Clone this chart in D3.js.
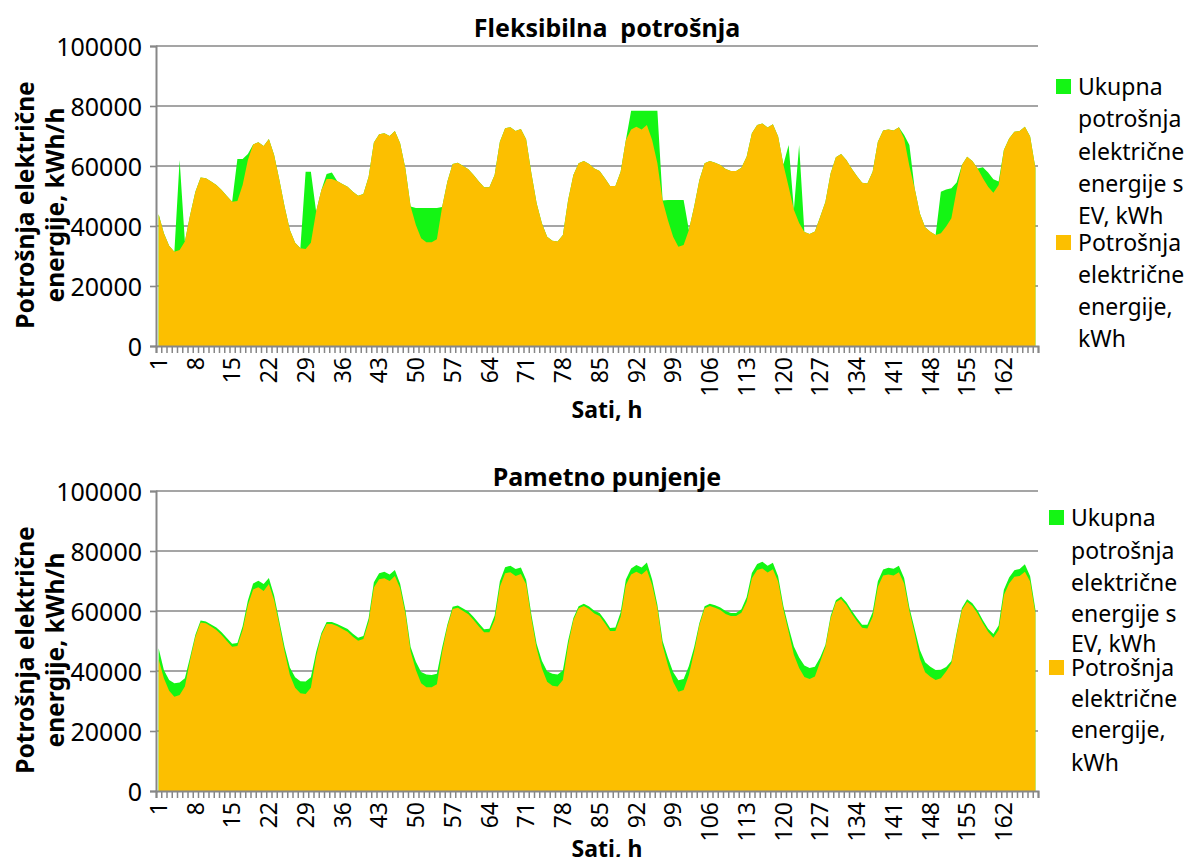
<!DOCTYPE html>
<html>
<head>
<meta charset="utf-8">
<script src="https://cdn.jsdelivr.net/npm/d3@7"></script>
<style>
  body { margin: 0; background: #fff; }
  svg text { font-family: "Noto Sans", "DejaVu Sans", sans-serif; fill: #000; }
</style>
</head>
<body>
<svg id="chart" width="1189" height="857"></svg>
<script>
// Hours of the week (categories) and labelled hours on the x axis
const hours = d3.range(1, 169);
const hourTicks = [1, 8, 15, 22, 29, 36, 43, 50, 57, 64, 71, 78, 85, 92, 99, 106, 113, 120, 127, 134, 141, 148, 155, 162];
const yTicks = [0, 20000, 40000, 60000, 80000, 100000];

// Base electricity consumption without EVs, kWh (one row per day)
const baseLoad = [
  43900, 37600, 33400, 31400, 32000, 34800, 43700, 51400, 56200, 55900, 54800, 53700, 52000, 50000, 48100, 48300, 53700, 62000, 67200, 67900, 66700, 69000, 63700, 55300,
  46400, 38700, 34400, 32600, 32300, 34400, 44800, 52000, 55700, 55700, 55000, 54000, 53100, 51400, 50100, 50700, 56400, 67800, 70600, 70900, 70000, 71700, 67600, 59200,
  46500, 40300, 35900, 34600, 34600, 35600, 46300, 54800, 60700, 61100, 60000, 58900, 57000, 54800, 52900, 52900, 57000, 68100, 72600, 72900, 71700, 72300, 68900, 57600,
  47600, 40900, 36400, 35100, 34800, 37000, 48700, 57000, 60900, 61700, 60700, 59200, 58300, 55900, 53300, 53300, 58100, 68700, 72200, 73100, 72200, 73700, 68700, 60900,
  48500, 42000, 36400, 33100, 33700, 38700, 46400, 55300, 60900, 61700, 61100, 60300, 59000, 58300, 58300, 59400, 63100, 70900, 73700, 74200, 72800, 73900, 69800, 60500,
  53100, 45400, 41000, 38000, 37300, 38200, 43000, 48000, 57600, 62900, 64000, 62000, 59200, 56700, 54400, 54200, 58100, 68100, 71800, 72200, 71800, 72900, 69200, 60000,
  52600, 44200, 39600, 38100, 37000, 37600, 39800, 42600, 52000, 60300, 63100, 61700, 59200, 55900, 53100, 51100, 53700, 65300, 69200, 71400, 71700, 73100, 69800, 59300
];

// EV charging load, flexible charging, kWh
const evFlexible = [
  0, 0, 0, 0, 30000, 0, 0, 0, 0, 0, 0, 0, 0, 0, 0, 14000, 8600, 2000, 0, 0, 0, 0, 0, 0,
  0, 0, 0, 0, 25800, 23700, 0, 0, 1600, 2100, 0, 0, 0, 0, 0, 0, 0, 0, 0, 0, 0, 0, 0, 0,
  0, 5700, 10100, 11400, 11400, 10400, 0, 0, 0, 0, 0, 0, 0, 0, 0, 0, 0, 0, 0, 0, 0, 0, 0, 0,
  0, 0, 0, 0, 0, 0, 0, 0, 0, 0, 0, 0, 0, 0, 0, 0, 0, 0, 6200, 5300, 6200, 4700, 9700, 17500,
  0, 6700, 12300, 15600, 15000, 0, 0, 0, 0, 0, 0, 0, 0, 0, 0, 0, 0, 0, 0, 0, 0, 0, 0, 0,
  13900, 0, 26000, 0, 0, 0, 0, 0, 0, 0, 0, 0, 0, 0, 0, 0, 0, 0, 0, 0, 0, 0, 1100, 7000,
  0, 0, 0, 0, 0, 13800, 12400, 10000, 2500, 0, 0, 0, 0, 3700, 4700, 4500, 1100, 0, 0, 0, 0, 0, 0, 0
];

// EV charging load, smart charging, kWh
const evSmart = [
  3700, 2700, 3600, 4500, 4200, 2800, 1000, 700, 600, 600, 700, 800, 900, 1000, 1000, 1000, 1200, 1500, 2000, 2200, 2300, 2000, 1500, 1200,
  1500, 2500, 3500, 4000, 4200, 3500, 1500, 700, 600, 600, 700, 800, 900, 1000, 1000, 1000, 1200, 1800, 2000, 2200, 2200, 2000, 1500, 1200,
  1500, 2800, 3800, 4200, 4100, 3500, 1500, 700, 700, 700, 800, 900, 1000, 1100, 1000, 1200, 1500, 1800, 2000, 2200, 2300, 2200, 1500, 1200,
  1500, 2500, 3500, 4000, 4000, 3200, 1500, 700, 700, 700, 800, 900, 1000, 1100, 1000, 1200, 1500, 1800, 2000, 2200, 2300, 2500, 1800, 1200,
  1500, 2500, 3300, 3800, 3600, 3000, 1500, 700, 700, 700, 800, 900, 1000, 1000, 1000, 1200, 1500, 1800, 2000, 2200, 2300, 2200, 1800, 1200,
  1500, 2800, 3500, 3800, 3700, 3200, 1500, 700, 700, 700, 800, 900, 1000, 1000, 1000, 1200, 1500, 1800, 2000, 2200, 2300, 2200, 1800, 1200,
  1500, 2800, 3300, 3300, 3300, 2800, 1500, 700, 700, 700, 800, 900, 1000, 1000, 1000, 1200, 1500, 1800, 2000, 2200, 2300, 2500, 1800, 1200
];

const legendTotal = ["Ukupna", "potrošnja", "električne", "energije s", "EV, kWh"];
const legendBase = ["Potrošnja", "električne", "energije,", "kWh"];
const yTitle = ["Potrošnja električne", "energije, kWh/h"];
const xTitle = "Sati, h";

const GREEN = "#14f514";
const ORANGE = "#fcbf00";
const GRID = "#878787";

const svg = d3.select("#chart");

function drawPanel(opt) {
  const g = svg.append("g");
  const x = d3.scaleBand().domain(hours).range([opt.left, opt.right]).padding(0);
  const xc = h => x(h) + x.bandwidth() / 2;
  const xEdge = d3.scaleLinear().domain([0, hours.length]).range([opt.left, opt.right]);
  const y = d3.scaleLinear().domain([0, 100000]).range([opt.bottom, opt.top]);

  // horizontal gridlines
  g.append("g").selectAll("line").data(yTicks.slice(1)).join("line")
    .attr("x1", opt.left).attr("x2", opt.right)
    .attr("y1", d => y(d)).attr("y2", d => y(d))
    .attr("stroke", GRID).attr("stroke-width", 1.6);

  const total = hours.map((h, i) => baseLoad[i] + opt.ev[i]);
  const area = vals => d3.area()
    .x((d, i) => xc(hours[i]))
    .y0(y(0))
    .y1(d => y(d))(vals);

  g.append("path").attr("d", area(total)).attr("fill", GREEN);
  g.append("path").attr("d", area(baseLoad)).attr("fill", ORANGE);

  // y axis
  const ya = g.append("g").attr("transform", `translate(${opt.left},0)`)
    .call(d3.axisLeft(y).tickValues(yTicks).tickFormat(d3.format("d")).tickSize(6).tickPadding(8));
  ya.select(".domain").attr("stroke", GRID).attr("stroke-width", 2);
  ya.selectAll(".tick line").attr("stroke", GRID).attr("stroke-width", 1.6);
  ya.selectAll(".tick text").style("font-size", "25px").attr("dy", "0.36em");

  // x axis: tick marks between every category
  const xm = g.append("g").attr("transform", `translate(0,${opt.bottom})`)
    .call(d3.axisBottom(xEdge).tickValues(d3.range(0, hours.length + 1)).tickFormat("").tickSize(7));
  xm.select(".domain").attr("stroke", GRID).attr("stroke-width", 2);
  xm.selectAll(".tick line").attr("stroke", GRID).attr("stroke-width", 1.5);

  // x axis labels, rotated
  const xl = g.append("g").attr("transform", `translate(0,${opt.bottom})`)
    .call(d3.axisBottom(x).tickValues(hourTicks).tickSize(0).tickPadding(0));
  xl.select(".domain").remove();
  xl.selectAll(".tick text")
    .style("font-size", "23px")
    .attr("text-anchor", "end")
    .attr("transform", "translate(0,11) rotate(-90)")
    .attr("x", 0).attr("y", 0).attr("dy", "0.36em");

  // title
  g.append("text").attr("x", 607).attr("y", opt.titleY)
    .attr("text-anchor", "middle").style("font-size", "25px").style("font-weight", "bold")
    .style("white-space", "pre").text(opt.title);

  // axis titles
  const cy = opt.yTitleCenter;
  yTitle.forEach((t, i) => {
    g.append("text").attr("transform", `translate(${i === 0 ? 34 : 64},${cy}) rotate(-90)`)
      .attr("text-anchor", "middle").style("font-size", "24.5px").style("font-weight", "bold").text(t);
  });
  g.append("text").attr("x", 607).attr("y", opt.xTitleY).attr("text-anchor", "middle")
    .style("font-size", "23px").style("font-weight", "bold").text(xTitle);

  // legend
  const lg = g.append("g");
  lg.append("rect").attr("x", opt.legX).attr("y", opt.leg1[0] - 16).attr("width", 15).attr("height", 15).attr("fill", GREEN);
  legendTotal.forEach((t, i) => {
    lg.append("text").attr("x", opt.legX + 22).attr("y", opt.leg1[i]).style("font-size", "23px").text(t);
  });
  lg.append("rect").attr("x", opt.legX).attr("y", opt.leg2[0] - 16).attr("width", 15).attr("height", 15).attr("fill", ORANGE);
  legendBase.forEach((t, i) => {
    lg.append("text").attr("x", opt.legX + 22).attr("y", opt.leg2[i]).style("font-size", "23px").text(t);
  });
}

drawPanel({
  title: "Fleksibilna  potrošnja", ev: evFlexible,
  left: 156, right: 1038, top: 46, bottom: 346,
  titleY: 37, xTitleY: 418, yTitleCenter: 205,
  legX: 1056, leg1: [95, 127, 160, 192, 224], leg2: [251, 283, 315, 347]
});
drawPanel({
  title: "Pametno punjenje", ev: evSmart,
  left: 156, right: 1038, top: 491, bottom: 791,
  titleY: 486, xTitleY: 857, yTitleCenter: 650,
  legX: 1049, leg1: [526, 559, 591, 622, 652], leg2: [676, 707, 738, 771]
});
</script>
</body>
</html>
